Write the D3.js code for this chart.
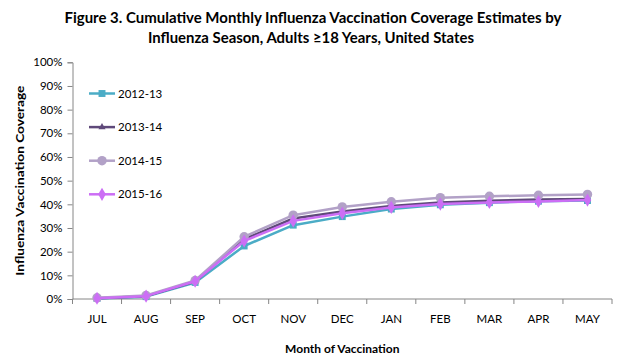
<!DOCTYPE html>
<html><head><meta charset="utf-8">
<script src="https://cdn.jsdelivr.net/npm/d3@7/dist/d3.min.js"></script>
<style>body{margin:0;background:#fff}svg{display:block}</style>
</head><body><svg id="c" width="621" height="356"></svg>
<script>
const months = ["JUL","AUG","SEP","OCT","NOV","DEC","JAN","FEB","MAR","APR","MAY"];
const seasons = ["2012-13","2013-14","2014-15","2015-16"];
const s2012 = [0.2, 1.0, 7.0, 22.4, 31.2, 34.8, 38.0, 39.8, 40.7, 41.3, 41.6];
const s2013 = [0.3, 1.2, 7.4, 25.3, 34.0, 37.0, 39.3, 40.8, 41.5, 42.0, 42.3];
const s2014 = [0.5, 1.5, 7.8, 26.3, 35.4, 38.9, 41.1, 42.8, 43.4, 43.8, 44.2];
const s2015 = [0.3, 1.2, 7.5, 24.5, 33.0, 36.2, 38.7, 40.1, 40.8, 41.2, 41.8];
const yTicks = [0,10,20,30,40,50,60,70,80,90,100];

const series = [
  {name: seasons[0], values: s2012, color: "#4BACC6", sym: d3.symbolSquare, size: 48},
  {name: seasons[1], values: s2013, color: "#5F497A", sym: d3.symbolTriangle, size: 22},
  {name: seasons[2], values: s2014, color: "#B2A1C7", sym: d3.symbolCircle, size: 70},
  {name: seasons[3], values: s2015, color: "#CC6EF5", sym: d3.symbolDiamond, size: 50}
];

const svg = d3.select("#c");
const L = 72.5, R = 612, T = 62.3, B = 299;
const font = "Lato, 'Open Sans', sans-serif";
const x = d3.scaleBand().domain(months).range([L, R]);
const y = d3.scaleLinear().domain([0, 100]).range([B, T]);

// title
const t1 = svg.append("text").attr("x", 313).attr("y", 23).attr("text-anchor","middle")
  .attr("font-family", font).attr("font-weight","bold").attr("font-size", 15).attr("fill","#000")
  .attr("textLength", 497).attr("lengthAdjust","spacingAndGlyphs")
  .text("Figure 3. Cumulative Monthly Influenza Vaccination Coverage Estimates by");
svg.append("text").attr("x", 311).attr("y", 43).attr("text-anchor","middle")
  .attr("font-family", font).attr("font-weight","bold").attr("font-size", 15).attr("fill","#000")
  .attr("textLength", 326).attr("lengthAdjust","spacingAndGlyphs")
  .text("Influenza Season, Adults \u226518 Years, United States");

// y axis
const yAx = svg.append("g").attr("transform", `translate(${L},0)`)
  .call(d3.axisLeft(y).tickValues(yTicks).tickFormat(d => d + "%").tickSize(5).tickPadding(5));
yAx.select(".domain").attr("stroke", "#868686");
yAx.selectAll(".tick line").attr("stroke", "#868686");
yAx.selectAll("text").attr("font-family", font).attr("font-size", 11.5).attr("fill", "#000");

// x axis
const xAx = svg.append("g").attr("transform", `translate(0,${B})`)
  .call(d3.axisBottom(x).tickSize(0).tickPadding(16));
xAx.select(".domain").attr("stroke", "#868686").attr("d", `M${L},0H${R}`);
xAx.selectAll("text").attr("font-family", font).attr("font-size", 11.5).attr("fill", "#000");
xAx.selectAll(".tick line").remove();
const bounds = months.map(m => x(m)).concat([R]);
svg.append("g").selectAll("line").data(bounds).join("line")
  .attr("x1", d => d).attr("x2", d => d).attr("y1", B).attr("y2", B + 5)
  .attr("stroke", "#868686");

// axis titles
svg.append("text").attr("x", (L + R) / 2).attr("y", 353).attr("text-anchor","middle")
  .attr("font-family", font).attr("font-weight","bold").attr("font-size", 12).text("Month of Vaccination");
svg.append("text").attr("transform", `translate(24,${(T + B) / 2}) rotate(-90)`).attr("text-anchor","middle")
  .attr("font-family", font).attr("font-weight","bold").attr("font-size", 11.5)
  .attr("textLength", 190).attr("lengthAdjust","spacingAndGlyphs").text("Influenza Vaccination Coverage");

// lines
const cx = m => x(m) + x.bandwidth() / 2;
const line = d3.line().x((d, i) => cx(months[i])).y(d => y(d));
series.forEach(s => {
  svg.append("path").datum(s.values).attr("d", line).attr("fill","none")
    .attr("stroke", s.color).attr("stroke-width", 2.5).attr("stroke-linejoin","round");
  svg.append("g").selectAll("path").data(s.values).join("path")
    .attr("d", d3.symbol().type(s.sym).size(s.size))
    .attr("transform", (d, i) => `translate(${cx(months[i])},${y(d)})`)
    .attr("fill", s.color);
});

// legend
const lg = svg.append("g");
series.forEach((s, i) => {
  const yy = 93.5 + i * 33.6;
  lg.append("line").attr("x1", 89).attr("x2", 115).attr("y1", yy).attr("y2", yy)
    .attr("stroke", s.color).attr("stroke-width", 2.5);
  lg.append("path").attr("d", d3.symbol().type(s.sym).size(s.size))
    .attr("transform", `translate(102,${yy})`).attr("fill", s.color);
  lg.append("text").attr("x", 118).attr("y", yy + 4).attr("font-family", font)
    .attr("font-size", 11.5).attr("fill", "#000").text(s.name);
});
</script></body></html>
